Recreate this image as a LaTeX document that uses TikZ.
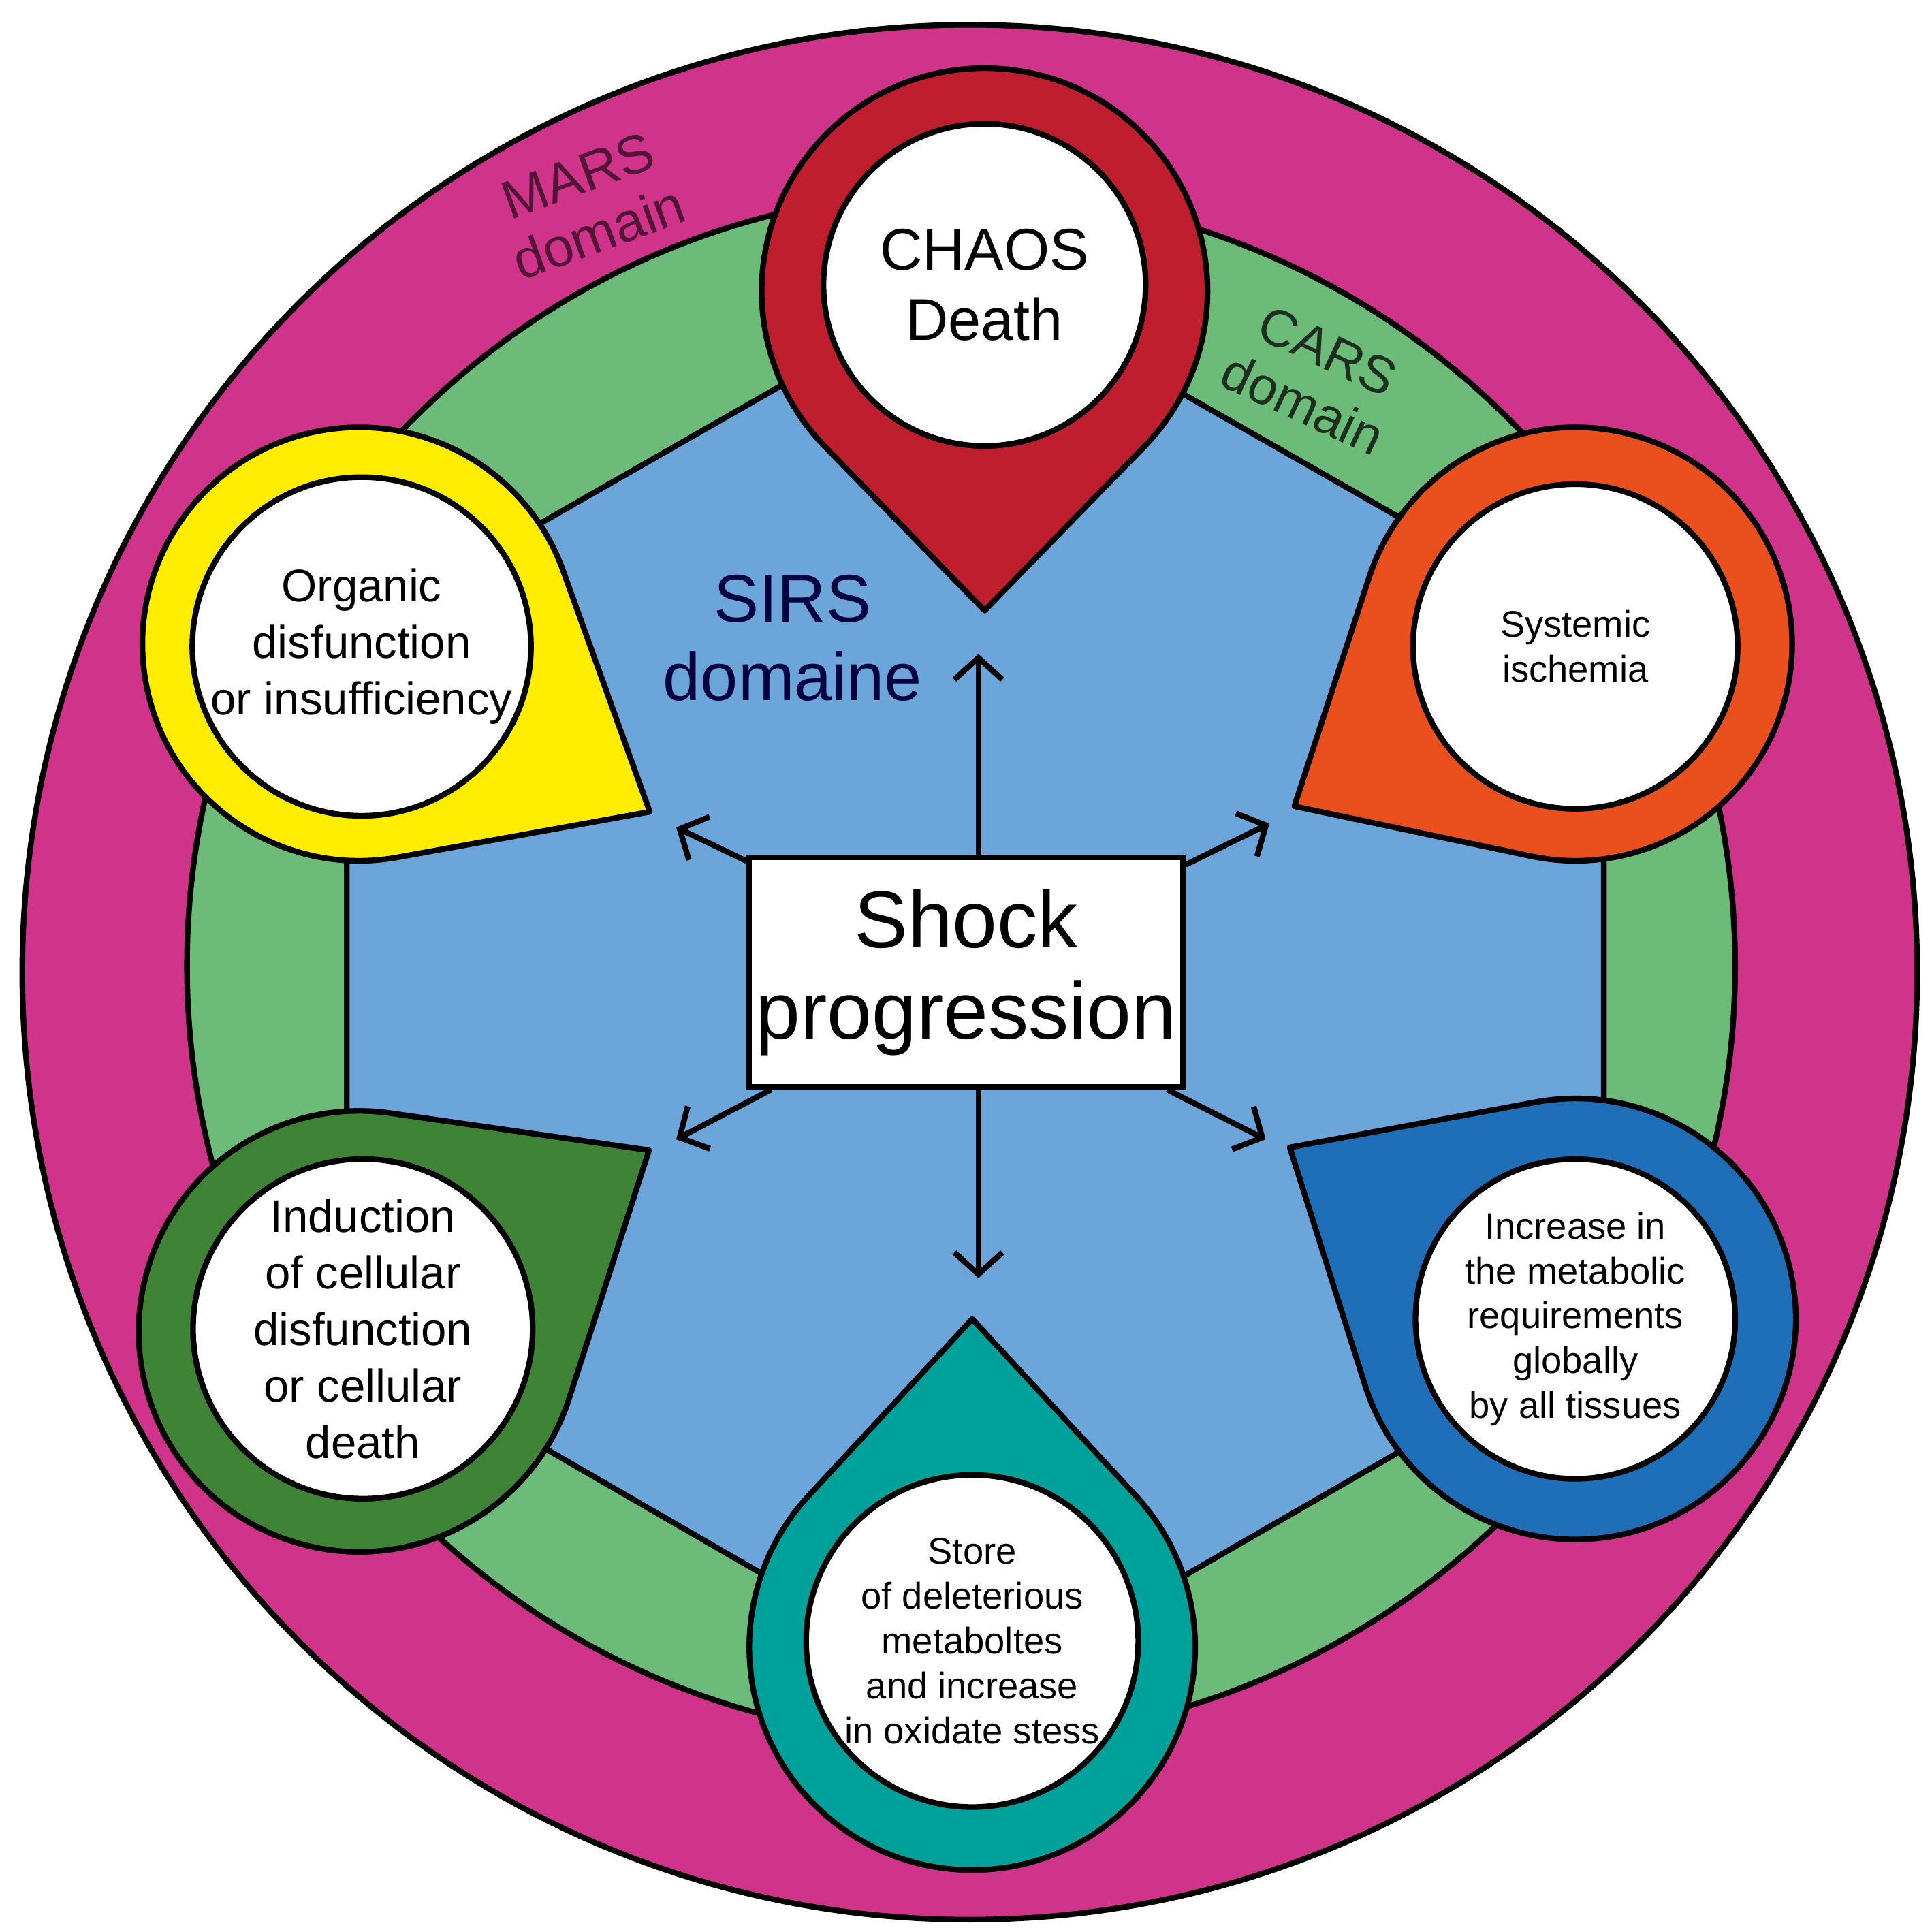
\documentclass[tikz,border=0pt]{standalone}
\usepackage{fontspec}
\setmainfont{Liberation Sans}
\usetikzlibrary{arrows.meta,calc}
\definecolor{marsc}{HTML}{D0338A}
\definecolor{ringc}{HTML}{6DBB78}
\definecolor{sirsc}{HTML}{6CA5D9}
\definecolor{chaosc}{HTML}{BE1E2D}
\definecolor{organc}{HTML}{FFED00}
\definecolor{ischc}{HTML}{E9501E}
\definecolor{metac}{HTML}{1F6FB8}
\definecolor{storec}{HTML}{00A19A}
\definecolor{cellc}{HTML}{3F8436}
\tikzset{
  outline/.style={draw=black, line width=1.3pt},
  hole/.style={circle, fill=white, outline, align=center, inner sep=0pt},
  spread/.style={-{Straight Barb[length=5pt,width=11pt]}, line width=1.3pt},
}
% droplet: center x, center y, radius, direction, tip distance, colour
\newcommand\droplet[6]{%
  \pgfmathsetmacro\dropalpha{acos(#3/#5)}
  \pgfmathsetmacro\dropa{#4+\dropalpha}
  \pgfmathsetmacro\dropb{#4-\dropalpha+360}
  \filldraw[fill=#6, outline, line join=round] (#1,#2) ++(#4:#5) -- ($(#1,#2)+(\dropa:#3)$)
    arc[start angle=\dropa, end angle=\dropb, radius=#3] -- cycle;}
\begin{document}
\begin{tikzpicture}[x=0.01cm, y=-0.01cm]
\useasboundingbox (0,0) rectangle (1560,1560);
% domains
\filldraw[fill=marsc, outline] (783,785) circle[radius=765];
\filldraw[fill=ringc, outline] (776,780) circle[radius=625];
\filldraw[fill=sirsc, outline] (787,222) -- (1295,512) -- (1295,1077) -- (787,1370)
  -- (280,1077) -- (280,512) -- cycle;
\node[rotate=20, align=center, text=marsc!40!black, font=\fontsize{12.5}{14}\selectfont] (mars) at (475,165) {MARS\\domain};
\node[rotate=-25, align=center, text=ringc!25!black, font=\fontsize{12}{13.5}\selectfont] (cars) at (1062,305) {CARS\\domain};
\node[align=center, text=black!75!blue, font=\fontsize{15.5}{18}\selectfont] (sirs) at (640,515) {SIRS\\domaine};
% droplets
\droplet{795}{235}{180}{90}{258}{chaosc}
\droplet{290}{520}{175}{30}{271}{organc}
\droplet{1272}{520}{175}{150}{262}{ischc}
\droplet{1272}{1065}{178}{211}{269}{metac}
\droplet{785}{1330}{180}{270}{265}{storec}
\droplet{290}{1075}{178}{-32}{276}{cellc}
\node[hole, minimum size=2.6cm, font=\fontsize{13.5}{16}\selectfont] (chaos) at (795,230) {CHAOS\\Death};
\node[hole, minimum size=2.68cm, font=\fontsize{10.5}{13}\selectfont] (organ) at (292,522) {Organic\\disfunction\\or insufficiency};
\node[hole, minimum size=2.62cm, font=\fontsize{8.5}{10.3}\selectfont] (isch) at (1272,522) {Systemic\\ischemia};
\node[hole, minimum size=2.58cm, font=\fontsize{8.5}{10.3}\selectfont] (meta) at (1272,1065) {Increase in\\the metabolic\\requirements\\globally\\by all tissues};
\node[hole, minimum size=2.68cm, font=\fontsize{10.5}{13}\selectfont] (cell) at (293,1073) {Induction\\of cellular\\disfunction\\or cellular\\death};
\node[hole, minimum size=2.68cm, font=\fontsize{8.5}{10.3}\selectfont] (store) at (785,1325) {Store\\of deleterious\\metaboltes\\and increase\\in oxidate stess};
% centre
\node[fill=white, outline, minimum width=3.5cm, minimum height=1.85cm, inner xsep=1pt, align=center,
  font=\fontsize{18.5}{21}\selectfont] (shock) at (780,785) {Shock\\progression};
\coordinate (up) at (790,528);
\coordinate (down) at (790,1032);
\coordinate (ul) at (546,668);
\coordinate (ur) at (1025,665);
\coordinate (dl) at (546,920);
\coordinate (dr) at (1022,920);
\draw[spread] (shock.north -| up) -- (up);
\draw[spread] (shock.south -| down) -- (down);
\draw[spread] ([yshift=-0.05cm]shock.north west) -- (ul);
\draw[spread] ([yshift=-0.08cm]shock.north east) -- (ur);
\draw[spread] ([xshift=0.2cm]shock.south west) -- (dl);
\draw[spread] ([xshift=-0.15cm]shock.south east) -- (dr);
\end{tikzpicture}
\end{document}
